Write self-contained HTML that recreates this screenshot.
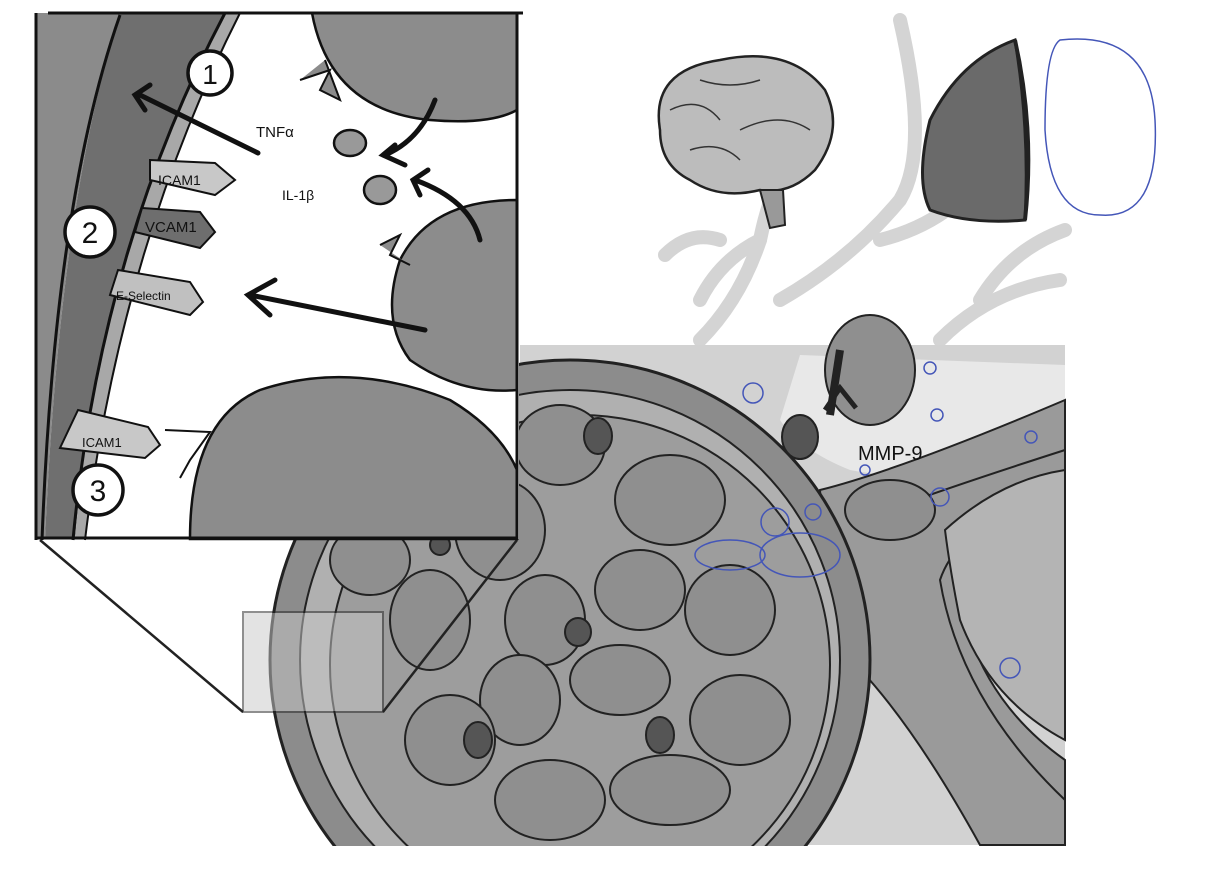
<!DOCTYPE html>
<html><head><meta charset="utf-8"><style>html,body{margin:0;padding:0;background:#fff;width:1217px;height:869px;overflow:hidden}svg{display:block}</style></head>
<body>
<svg width="1217" height="869" viewBox="0 0 1217 869" xmlns="http://www.w3.org/2000/svg" font-family="Liberation Sans, sans-serif">
<defs><clipPath id="c"><rect x="0" y="0" width="1217" height="846"/></clipPath></defs>
<rect width="1217" height="869" fill="#fff"/>
<g clip-path="url(#c)">
<g stroke="#d4d4d4" stroke-width="14" fill="none" stroke-linecap="round">
<path d="M700 340 Q740 300 760 240 Q770 190 790 160"/>
<path d="M760 240 Q720 260 700 300"/>
<path d="M780 300 Q850 260 900 200 Q930 150 900 20"/>
<path d="M880 240 Q960 220 1000 150"/>
<path d="M940 340 Q990 290 1060 280"/>
<path d="M980 300 Q1010 250 1065 230"/>
<path d="M720 240 Q690 230 665 255"/>
</g>
<path d="M520 345 L1065 345 L1065 845 L520 845 Z" fill="#d2d2d2"/>
<path d="M800 355 L1065 365 L1065 420 Q980 440 950 470 Q900 480 850 470 Q800 450 780 420 Z" fill="#e8e8e8"/>
<path d="M820 490 Q900 470 1065 400 L1065 520 Q980 540 960 600 Q980 700 1065 760 L1065 845 L980 845 Q900 700 830 640 Z" fill="#9a9a9a" stroke="#222" stroke-width="2"/>
<path d="M860 520 Q940 490 1065 450 L1065 490 Q960 520 940 580 Q960 700 1065 800" fill="none" stroke="#222" stroke-width="2"/>
<path d="M945 530 Q1000 480 1065 470 L1065 740 Q990 700 960 620 Q950 570 945 530Z" fill="#b4b4b4" stroke="#222" stroke-width="2"/>
<circle cx="570" cy="660" r="300" fill="#8c8c8c" stroke="#222" stroke-width="3"/>
<circle cx="570" cy="660" r="270" fill="#b0b0b0" stroke="#222" stroke-width="2"/>
<circle cx="580" cy="665" r="250" fill="#9d9d9d" stroke="#222" stroke-width="2"/>
<g fill="#8f8f8f" stroke="#222" stroke-width="2">
<ellipse cx="670" cy="500" rx="55" ry="45"/>
<ellipse cx="560" cy="445" rx="45" ry="40"/>
<ellipse cx="500" cy="530" rx="45" ry="50"/>
<ellipse cx="640" cy="590" rx="45" ry="40"/>
<ellipse cx="545" cy="620" rx="40" ry="45"/>
<ellipse cx="730" cy="610" rx="45" ry="45"/>
<ellipse cx="430" cy="620" rx="40" ry="50"/>
<ellipse cx="620" cy="680" rx="50" ry="35"/>
<ellipse cx="520" cy="700" rx="40" ry="45"/>
<ellipse cx="450" cy="740" rx="45" ry="45"/>
<ellipse cx="740" cy="720" rx="50" ry="45"/>
<ellipse cx="550" cy="800" rx="55" ry="40"/>
<ellipse cx="670" cy="790" rx="60" ry="35"/>
<ellipse cx="370" cy="560" rx="40" ry="35"/>
<ellipse cx="890" cy="510" rx="45" ry="30"/>
<ellipse cx="870" cy="370" rx="45" ry="55"/>
</g>
<g fill="#555" stroke="#222" stroke-width="2">
<ellipse cx="598" cy="436" rx="14" ry="18"/><ellipse cx="800" cy="437" rx="18" ry="22"/>
<ellipse cx="578" cy="632" rx="13" ry="14"/><ellipse cx="660" cy="735" rx="14" ry="18"/>
<ellipse cx="478" cy="740" rx="14" ry="18"/><ellipse cx="440" cy="545" rx="10" ry="10"/>
</g>
</g>
<path d="M830 415 L840 350" stroke="#222" stroke-width="8" fill="none"/>
<path d="M825 410 L840 388 L856 408" stroke="#222" stroke-width="5" fill="none"/>
<text x="858" y="460" font-size="20" fill="#111">MMP-9</text>
<g fill="none" stroke="#4456b8" stroke-width="1.5">
<circle cx="753" cy="393" r="10"/><circle cx="930" cy="368" r="6"/><circle cx="937" cy="415" r="6"/>
<circle cx="1031" cy="437" r="6"/><circle cx="865" cy="470" r="5"/><circle cx="940" cy="497" r="9"/>
<circle cx="775" cy="522" r="14"/><circle cx="813" cy="512" r="8"/><ellipse cx="800" cy="555" rx="40" ry="22"/>
<circle cx="1010" cy="668" r="10"/><ellipse cx="730" cy="555" rx="35" ry="15"/>
<path d="M1060 40 Q1150 30 1155 120 Q1160 220 1100 215 Q1050 215 1045 130 Q1045 50 1060 40Z"/>
<circle cx="752" cy="155" r="22"/><circle cx="980" cy="180" r="18"/>
</g>
<path d="M660 130 Q650 70 720 60 Q790 45 825 90 Q845 130 815 170 Q790 195 760 190 Q720 200 690 180 Q660 165 660 130Z" fill="#bcbcbc" stroke="#222" stroke-width="2.5"/>
<path d="M760 190 L770 228 L785 225 L783 190Z" fill="#999" stroke="#222" stroke-width="2"/>
<path d="M670 110 Q700 95 720 120 M700 80 Q730 90 760 80 M740 130 Q780 110 810 130 M690 150 Q720 140 740 160" stroke="#333" stroke-width="1.5" fill="none"/>
<path d="M1015 40 Q960 60 930 120 Q915 180 930 210 Q970 225 1025 220 Q1030 130 1015 40Z" fill="#6a6a6a" stroke="#222" stroke-width="3"/>
<path d="M1015 40 Q1035 130 1025 220" stroke="#222" stroke-width="4" fill="none"/>
<rect x="243" y="612" width="140" height="100" fill="#c8c8c8" opacity=".5" stroke="#222" stroke-width="2"/>
<path d="M40 540 L243 712 M517 540 L383 712" stroke="#222" stroke-width="2.5" fill="none"/>
<rect x="37" y="13" width="482" height="526" fill="#fff"/>
<path d="M37 13 L120 13 Q60 200 45 539 L37 539Z" fill="#8b8b8b"/>
<path d="M120 13 L225 13 Q100 250 75 539 L45 539 Q60 200 120 13Z" fill="#6f6f6f"/>
<path d="M225 13 L240 13 Q120 250 85 539 L75 539 Q100 250 225 13Z" fill="#a8a8a8"/>
<path d="M120 15 Q55 200 42 540" stroke="#111" stroke-width="3" fill="none"/>
<path d="M225 13 Q100 250 73 540" stroke="#111" stroke-width="3" fill="none"/>
<path d="M240 13 Q120 250 85 540" stroke="#111" stroke-width="2" fill="none"/>
<path d="M312 13 Q330 110 430 120 Q490 125 517 110 L517 13Z" fill="#8c8c8c" stroke="#111" stroke-width="2.5"/>
<path d="M517 200 Q430 200 400 260 Q380 320 410 360 Q460 395 517 390Z" fill="#8c8c8c" stroke="#111" stroke-width="2.5"/>
<path d="M190 539 Q190 420 260 390 Q350 360 450 400 Q500 430 517 470 L517 539Z" fill="#8c8c8c" stroke="#111" stroke-width="2.5"/>
<path d="M300 80 L330 70 L320 90 L340 100 L325 60" fill="#8c8c8c" stroke="#111" stroke-width="2"/>
<path d="M380 245 L400 235 L390 255 L410 265" fill="#8c8c8c" stroke="#111" stroke-width="2"/>
<ellipse cx="350" cy="143" rx="16" ry="13" fill="#999" stroke="#111" stroke-width="2.5"/>
<ellipse cx="380" cy="190" rx="16" ry="14" fill="#999" stroke="#111" stroke-width="2.5"/>
<text x="256" y="137" font-size="15" fill="#111">TNFα</text>
<text x="282" y="200" font-size="14" fill="#111">IL-1β</text>
<g stroke="#111" stroke-width="2">
<path d="M150 160 L215 163 L235 180 L215 195 L150 180Z" fill="#c8c8c8"/>
<path d="M142 208 L200 212 L215 232 L200 248 L135 232Z" fill="#6e6e6e"/>
<path d="M118 270 L190 282 L203 302 L190 315 L110 295Z" fill="#c0c0c0"/>
<path d="M78 410 L148 427 L160 445 L145 458 L60 448Z" fill="#c8c8c8"/>
<path d="M165 430 L210 432 L190 460 L180 478" fill="none"/>
</g>
<text x="158" y="185" font-size="14" fill="#111">ICAM1</text>
<text x="145" y="232" font-size="15" fill="#111">VCAM1</text>
<text x="116" y="300" font-size="12" fill="#111">E-Selectin</text>
<text x="82" y="447" font-size="13" fill="#111">ICAM1</text>
<g stroke="#111" stroke-width="5" fill="none" stroke-linecap="round">
<path d="M258 153 L140 95 M150 85 L135 95 L145 110"/>
<path d="M425 330 L250 295 M275 280 L248 295 L270 315"/>
<path d="M435 100 Q420 140 385 155 M395 145 L383 155 L405 165"/>
<path d="M480 240 Q470 200 415 180 M428 170 L413 180 L420 195"/>
</g>
<g fill="#fff" stroke="#111" stroke-width="3.5">
<circle cx="210" cy="73" r="22"/><circle cx="90" cy="232" r="25"/><circle cx="98" cy="490" r="25"/>
</g>
<text x="210" y="84" font-size="28" text-anchor="middle" fill="#111">1</text>
<text x="90" y="243" font-size="30" text-anchor="middle" fill="#111">2</text>
<text x="98" y="501" font-size="30" text-anchor="middle" fill="#111">3</text>
<path d="M48 13 L523 13 M36 13 L36 540 M517 13 L517 540 M36 538 L517 538" stroke="#111" stroke-width="3" fill="none"/>
</svg>
</body></html>
